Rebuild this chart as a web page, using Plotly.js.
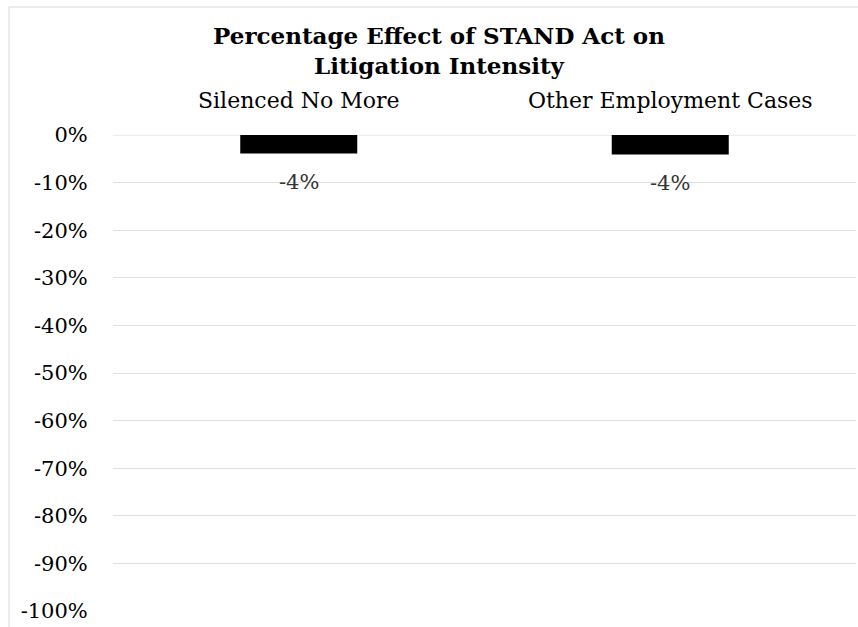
<!DOCTYPE html>
<html>
<head>
<meta charset="utf-8">
<script src="https://cdn.plot.ly/plotly-3.0.1.min.js"></script>
<style>html,body{margin:0;padding:0;background:#fff;}#chart{width:858px;height:627px;}</style>
</head>
<body>
<div id="chart"></div>
<script>
const categories = ["Silenced No More", "Other Employment Cases"];
const effects = [-3.9, -4.1];
const labels = ["-4%", "-4%"];
const tickValues = [0, -10, -20, -30, -40, -50, -60, -70, -80, -90, -100];
const tickLabels = ["0%", "-10%", "-20%", "-30%", "-40%", "-50%", "-60%", "-70%", "-80%", "-90%", "-100%"];

const serif = "DejaVu Serif, Liberation Serif, serif";
const W = 858, H = 627, ml = 113, mr = 2, mt = 135, mb = 16;
const pw = W - ml - mr, ph = H - mt - mb;
const px = v => (v - ml) / pw;
const py = v => 1 - (v - mt) / ph;

const trace = {
  type: "bar",
  x: categories,
  y: effects,
  width: 0.315,
  marker: {color: "#000000"},
  text: labels,
  textposition: "none",
  hoverinfo: "skip"
};

const annotations = categories.map((c, i) => ({
  x: c, y: effects[i], xref: "x", yref: "y",
  text: labels[i], showarrow: false, yanchor: "top", yshift: -14,
  font: {family: serif, size: 21, color: "#333333"}
}));

const layout = {
  width: W, height: H,
  margin: {l: ml, r: mr, t: mt, b: mb, pad: 0},
  paper_bgcolor: "#ffffff", plot_bgcolor: "#ffffff",
  showlegend: false,
  title: {
    text: "<b>Percentage Effect of STAND Act on<br>Litigation Intensity</b>",
    x: 439/W, xref: "container", xanchor: "center", y: 1 - 44/H, yanchor: "top",
    font: {family: serif, size: 23, color: "#000000"}
  },
  xaxis: {
    side: "top", type: "category",
    showgrid: false, zeroline: false, showline: false,
    ticks: "outside", ticklen: 17, tickcolor: "rgba(0,0,0,0)",
    tickfont: {family: serif, size: 22, color: "#000000"},
    range: [-0.5, 1.5]
  },
  yaxis: {
    range: [-100, 0],
    tickvals: tickValues, ticktext: tickLabels,
    showgrid: true, gridcolor: "#e0e0e0", gridwidth: 1,
    zeroline: false, showline: false,
    ticks: "outside", ticklen: 20, tickcolor: "rgba(0,0,0,0)",
    tickfont: {family: serif, size: 21, color: "#000000"}
  },
  annotations: annotations,
  shapes: [
    {type: "line", xref: "paper", yref: "paper", x0: px(9), x1: px(9), y0: py(627), y1: py(7), line: {color: "#d9d9d9", width: 1}},
    {type: "line", xref: "paper", yref: "paper", x0: px(9), x1: px(858), y0: py(7), y1: py(7), line: {color: "#d9d9d9", width: 1}},
    {type: "line", xref: "paper", yref: "y", x0: 0, x1: 1, y0: 0, y1: 0, line: {color: "#d9d9d9", width: 1}, layer: "below"}
  ]
};

Plotly.newPlot("chart", [trace], layout, {displayModeBar: false, staticPlot: true});
</script>
</body>
</html>
